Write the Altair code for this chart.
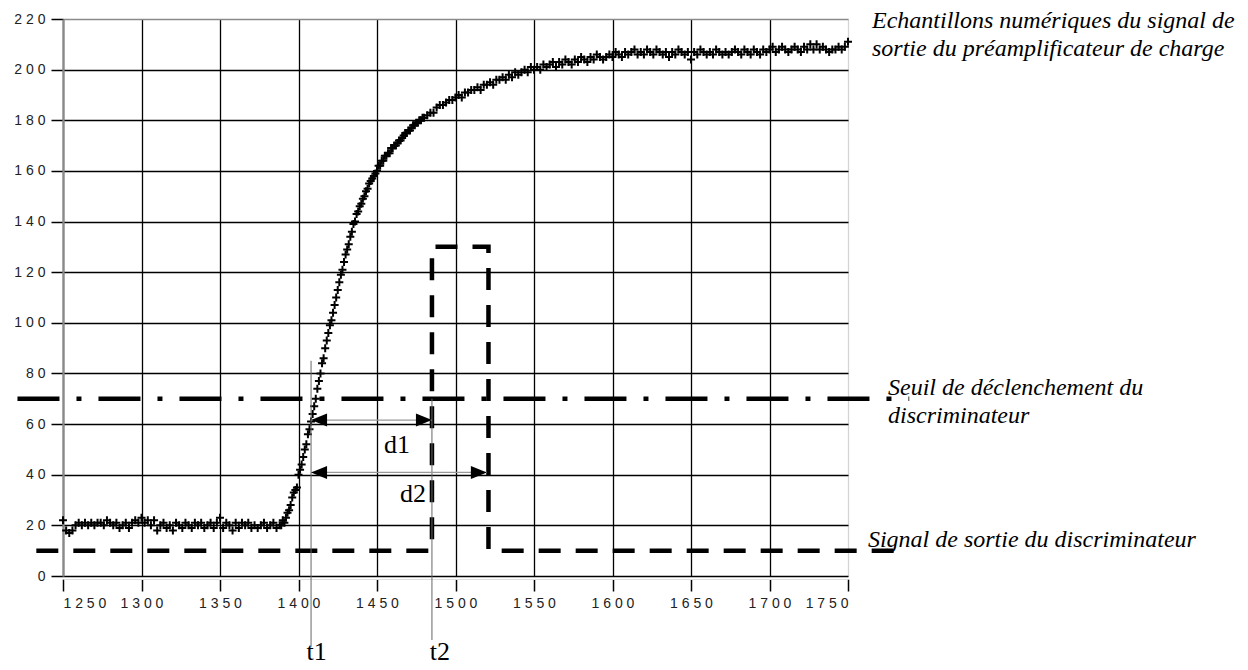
import altair as alt
import pandas as pd

# ---------------- data ----------------
# digital samples of the charge preamplifier output (three segments)
seg_a_start, seg_a_step = 1250, 2
seg_a_y = [22, 18, 17, 18, 20, 21, 20, 21, 20, 21,
           20, 21, 21, 20, 22, 21, 20, 21, 19, 20,
           21, 19, 21, 22, 21, 23, 21, 22, 20, 22,
           18, 20, 21, 19, 20, 18, 21, 20, 19, 21,
           20, 19, 21, 20, 21, 19, 20, 21, 19, 21,
           23, 19, 21, 20, 18, 21, 19, 21, 20, 21,
           19, 20, 19, 20, 21, 19, 20, 21, 19, 20]
seg_b_start, seg_b_step = 1389, 1
seg_b_y = [20, 22, 21, 23, 25, 26, 28, 31, 33, 34,
           35, 40, 42, 44, 47, 50, 52, 56, 58, 61,
           64, 67, 70, 74, 77, 80, 84, 86, 90, 93,
           96, 99, 101, 104, 107, 110, 113, 116, 119, 121,
           124, 127, 129, 131, 134, 136, 139, 140, 143, 144,
           146, 147, 149, 150, 152, 153, 155, 156, 157, 158,
           159, 160, 162, 162, 164, 164, 166, 166, 167, 167,
           169, 169, 170, 170, 171, 172, 172, 173, 174, 175,
           175, 176, 176, 177, 178, 178, 179, 179, 180, 180,
           181, 181]
seg_c_start, seg_c_step = 1482, 2
seg_c_y = [182, 183, 183, 185, 186, 186, 187, 188, 188, 189,
           190, 189, 191, 191, 192, 192, 193, 192, 194, 194,
           195, 194, 196, 196, 197, 196, 198, 197, 199, 198,
           199, 200, 199, 201, 200, 201, 200, 202, 201, 202,
           203, 201, 203, 202, 204, 203, 202, 204, 203, 205,
           204, 203, 205, 204, 206, 205, 204, 205, 206, 205,
           207, 206, 205, 207, 206, 207, 208, 206, 207, 206,
           208, 207, 206, 208, 207, 206, 207, 205, 207, 206,
           208, 207, 206, 207, 204, 207, 206, 208, 207, 206,
           207, 206, 208, 207, 206, 207, 206, 207, 208, 207,
           206, 208, 207, 206, 208, 207, 206, 208, 207, 208,
           209, 207, 208, 209, 208, 207, 208, 209, 208, 207,
           209, 208, 210, 208, 210, 208, 209, 208, 207, 208,
           208, 209, 208, 209, 211]

# discriminator output (dashed)
disc_x = [1233, 1485, 1485, 1521, 1521, 1786]
disc_y = [10, 10, 130, 130, 10, 10]
# trigger threshold (dash-dot)
thr_x = [1221, 1789]
thr_y = [70, 70]
# delay arrows d1, d2
arrow_names = ["d1", "d2"]
arrow_y = [61.6, 40.9]
arrow_x1 = [1408, 1408]
arrow_x2 = [1485, 1520]
arrow_label_x = [1462.7, 1472.9]
arrow_label_y = [48.6, 29.2]
# time markers t1, t2
t_names = ["t1", "t2"]
t_x = [1408, 1485]
t_top = [85, 70]
t_bottom = [-28, -25.3]
t_label_x = [1411.5, 1490]
t_label_y = [-33.0, -33.0]
# right-hand annotations
note_text = ["Echantillons numériques du signal de",
             "sortie du préamplificateur de charge",
             "Seuil de déclenchement du",
             "discriminateur",
             "Signal de sortie du discriminateur"]
note_x = [1765.3, 1765.3, 1775.5, 1775.5, 1762.7]
note_y = [216.4, 205.4, 71.5, 60.4, 11.45]

x_ticks = list(range(1250, 1751, 50))
y_ticks = list(range(0, 221, 20))

# ---------------- tables ----------------
xs, ys = [], []
for start, step, vals in [(seg_a_start, seg_a_step, seg_a_y),
                          (seg_b_start, seg_b_step, seg_b_y),
                          (seg_c_start, seg_c_step, seg_c_y)]:
    for i, v in enumerate(vals):
        xs.append(start + i * step)
        ys.append(v)
samples = pd.DataFrame({"x": xs, "y": ys})
disc = pd.DataFrame({"x": disc_x, "y": disc_y, "o": list(range(len(disc_x)))})
thr = pd.DataFrame({"x": thr_x, "y": thr_y})
arrows = pd.DataFrame({"name": arrow_names, "y": arrow_y, "x": arrow_x1, "x2": arrow_x2,
                       "lx": arrow_label_x, "ly": arrow_label_y})
tmarks = pd.DataFrame({"name": t_names, "x": t_x, "y": t_top, "y2": t_bottom,
                       "lx": t_label_x, "ly": t_label_y})
notes = pd.DataFrame({"text": note_text, "x": note_x, "y": note_y})

xs_scale = alt.Scale(domain=[1250, 1750], nice=False, zero=False)
ys_scale = alt.Scale(domain=[0, 220], nice=False, zero=False)
spaced = "join(split(datum.label, ''), ' ')"

x_axis = alt.Axis(values=x_ticks, format="d", title=None, labelExpr=spaced,
                  grid=True,
                  gridColor={"condition": {"test": "datum.value === 1750", "value": "#d4d4d4"},
                             "value": "#000000"},
                  gridWidth=1.3, domainColor="#dedede", domainWidth=1, offset=3,
                  tickColor="#000000", tickSize=12, tickWidth=1.5, labelPadding=5,
                  labelFont="Liberation Sans", labelFontSize=14, labelColor="#222222")
y_axis = alt.Axis(values=y_ticks, title=None, labelExpr=spaced, grid=True,
                  gridColor={"condition": {"test": "datum.value === 220", "value": "#8a8a8a"},
                             "value": "#000000"},
                  gridWidth=1.3, domainColor="#8a8a8a", domainWidth=2.2,
                  tickColor="#000000", tickSize=12, tickWidth=1.5, labelPadding=6,
                  labelFont="Liberation Sans", labelFontSize=14, labelColor="#222222")


def X(field):
    return alt.X(field, scale=xs_scale, axis=x_axis)


def Y(field):
    return alt.Y(field, scale=ys_scale, axis=y_axis)


cross = "M-4,0L4,0M0,-4L0,4"
pts = alt.Chart(samples).mark_point(shape=cross, size=4, filled=False, color="black",
                                    strokeWidth=2, opacity=1).encode(
    x=X("x:Q"), y=Y("y:Q"))

disc_line = alt.Chart(disc).mark_line(color="black", strokeWidth=4.5, strokeDash=[22, 15],
                                      strokeJoin="miter", strokeCap="butt").encode(
    x=X("x:Q"), y=Y("y:Q"), order="o:Q")

thr_line = alt.Chart(thr).mark_line(color="black", strokeWidth=4.5,
                                    strokeDash=[42, 17, 5, 17], strokeCap="butt").encode(
    x=X("x:Q"), y=Y("y:Q"))

t_lines = alt.Chart(tmarks).mark_rule(color="#666666", strokeWidth=1).encode(
    x=X("x:Q"), y=Y("y:Q"), y2="y2:Q")
t_text = alt.Chart(tmarks).mark_text(font="Liberation Serif", fontSize=26, color="black",
                                     align="center", baseline="alphabetic").encode(
    x=X("lx:Q"), y=Y("ly:Q"), text="name:N")

arr_lines = alt.Chart(arrows).mark_rule(color="#999999", strokeWidth=1.3).encode(
    x=X("x:Q"), x2="x2:Q", y=Y("y:Q"))
arr_left = alt.Chart(arrows).mark_point(shape="M0,0L16,-6.5L16,6.5Z", size=4, filled=True,
                                        color="black", opacity=1, strokeWidth=0).encode(
    x=X("x:Q"), y=Y("y:Q"))
arr_right = alt.Chart(arrows).mark_point(shape="M0,0L-16,-6.5L-16,6.5Z", size=4, filled=True,
                                         color="black", opacity=1, strokeWidth=0).encode(
    x=X("x2:Q"), y=Y("y:Q"))
arr_text = alt.Chart(arrows).mark_text(font="Liberation Serif", fontSize=26, color="black",
                                       align="center", baseline="alphabetic").encode(
    x=X("lx:Q"), y=Y("ly:Q"), text="name:N")

note_marks = alt.Chart(notes).mark_text(font="Liberation Serif", fontSize=24,
                                        fontStyle="italic", color="black",
                                        align="left", baseline="alphabetic").encode(
    x=X("x:Q"), y=Y("y:Q"), text="text:N")

chart = alt.layer(pts, disc_line, thr_line, t_lines, arr_lines, arr_left, arr_right,
                  arr_text, t_text, note_marks).properties(
    width=785, height=557,
    autosize=alt.AutoSizeParams(type="none"),
    padding={"left": 55, "top": 11, "right": 392, "bottom": 90},
).configure_view(stroke="#dcdcdc", strokeWidth=1).configure(background="white")

chart.save("out.html", embed_options={"renderer": "svg", "actions": False})
